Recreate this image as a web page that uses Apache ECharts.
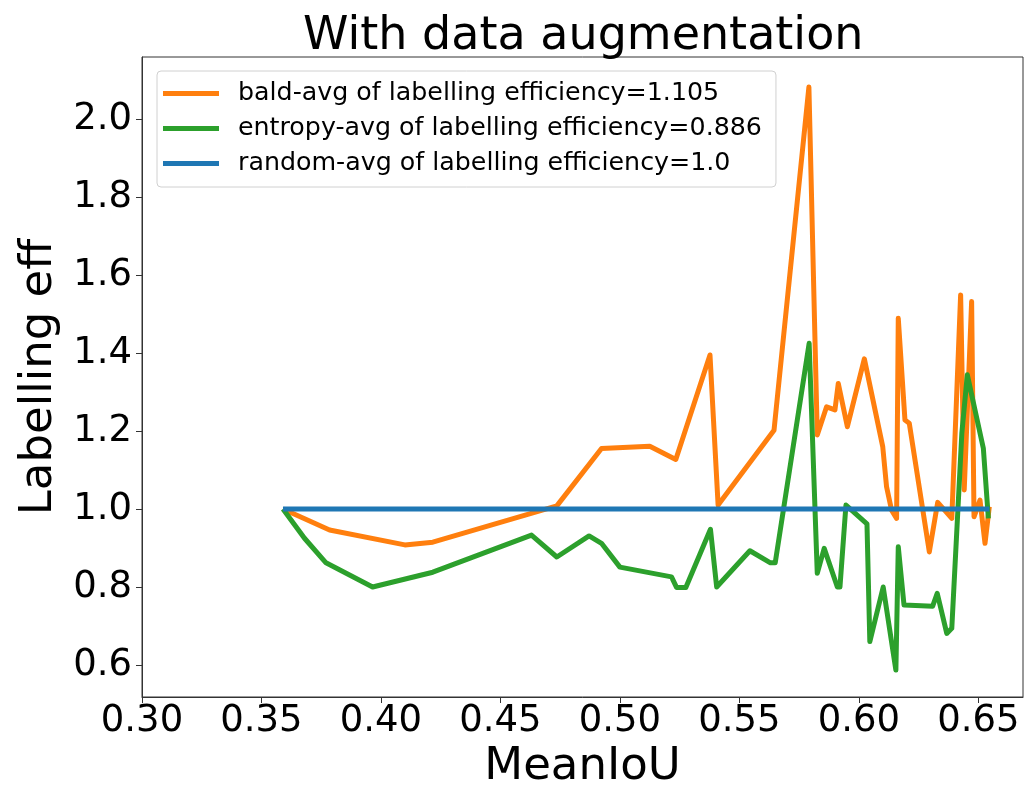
<!DOCTYPE html>
<html>
<head>
<meta charset="utf-8">
<script src="https://cdn.jsdelivr.net/npm/echarts@6/dist/echarts.min.js"></script>
<style>
  html, body { margin: 0; padding: 0; background: #fff; }
  #container { width: 1025px; height: 787px; }
</style>
</head>
<body>
<div id="container"></div>
<script>
// 标题和坐标轴文字
const title = 'With data augmentation';
const xName = 'MeanIoU';
const yName = 'Labelling eff';

// 图例名称
const baldName = 'bald-avg of labelling efficiency=1.105';
const entropyName = 'entropy-avg of labelling efficiency=0.886';
const randomName = 'random-avg of labelling efficiency=1.0';

// 刻度
const xTicks = [0.30, 0.35, 0.40, 0.45, 0.50, 0.55, 0.60, 0.65];
const yTicks = [0.6, 0.8, 1.0, 1.2, 1.4, 1.6, 1.8, 2.0];

// bald 数据 (x: MeanIoU, y: 标注效率)
const baldX = [0.359, 0.3785, 0.410, 0.4217, 0.4736, 0.4923, 0.5125, 0.5234, 0.5377, 0.5411,
  0.5645, 0.5791, 0.5826, 0.5865, 0.5900, 0.5914, 0.5952, 0.6023, 0.6100, 0.6116,
  0.6137, 0.6158, 0.6165, 0.6193, 0.6211, 0.6295, 0.6330, 0.6389, 0.6426, 0.6441,
  0.6472, 0.6482, 0.6507, 0.6528, 0.6546];
const baldY = [1.000, 0.946, 0.908, 0.915, 1.008, 1.155, 1.161, 1.127, 1.395, 1.010,
  1.202, 2.082, 1.190, 1.262, 1.254, 1.322, 1.211, 1.385, 1.160, 1.057,
  0.997, 0.976, 1.489, 1.228, 1.220, 0.890, 1.017, 0.976, 1.549, 1.049,
  1.532, 0.980, 1.023, 0.912, 1.006];

// entropy 数据
const entropyX = [0.359, 0.368, 0.377, 0.3965, 0.4217, 0.463, 0.4736, 0.4871, 0.4923, 0.500,
  0.5216, 0.5237, 0.5276, 0.5379, 0.5405, 0.5544, 0.5630, 0.5650, 0.5792, 0.5826,
  0.5855, 0.5910, 0.5921, 0.5946, 0.6034, 0.6046, 0.6102, 0.6155, 0.6165, 0.6189,
  0.6309, 0.6328, 0.6368, 0.6389, 0.6431, 0.6454, 0.6521, 0.6542];
const entropyY = [1.000, 0.925, 0.862, 0.800, 0.838, 0.933, 0.877, 0.931, 0.912, 0.851,
  0.826, 0.799, 0.799, 0.948, 0.800, 0.893, 0.862, 0.862, 1.425, 0.835,
  0.899, 0.800, 0.800, 1.010, 0.962, 0.660, 0.800, 0.587, 0.903, 0.754,
  0.751, 0.784, 0.681, 0.694, 1.194, 1.344, 1.156, 0.976];

// random 数据
const randomX = [0.359, 0.6546];
const randomY = [1.0, 1.0];

const colors = ['#ff7f0e', '#2ca02c', '#1f77b4'];
const font = 'DejaVu Sans';

// 组合成 [x, y] 点
function toPoints(xs, ys) {
  return xs.map((x, i) => [x, ys[i]]);
}

function makeSeries(name, xs, ys, color) {
  return {
    name: name,
    type: 'line',
    data: toPoints(xs, ys),
    symbol: 'none',
    animation: false,
    lineStyle: { color: color, width: 5, join: 'round', cap: 'butt' },
    itemStyle: { color: color }
  };
}

const myChart = echarts.init(document.getElementById('container'));

const option = {
  backgroundColor: '#fff',
  animation: false,
  title: {
    text: title,
    left: 298,
    top: 9,
    textStyle: { fontFamily: font, fontSize: 46, fontWeight: 'normal', color: '#000' }
  },
  legend: {
    orient: 'vertical',
    left: 157,
    top: 71,
    padding: [10, 14, 11, 6],
    itemGap: 10,
    itemWidth: 56,
    itemHeight: 5,
    icon: 'rect',
    borderColor: '#d0d0d0',
    borderWidth: 1,
    borderRadius: 4,
    backgroundColor: 'rgba(255,255,255,0.8)',
    textStyle: { fontFamily: font, fontSize: 25.3, color: '#000', padding: [0, 0, 0, 14] },
    data: [baldName, entropyName, randomName]
  },
  grid: {
    left: 142,
    right: 2,
    top: 57,
    bottom: 90,
    outerBoundsMode: 'none',
    containLabel: false,
    show: true,
    borderColor: '#333',
    borderWidth: 1,
    backgroundColor: '#fff'
  },
  xAxis: {
    type: 'value',
    min: 0.30,
    max: 0.6687,
    name: xName,
    nameLocation: 'middle',
    nameGap: 42,
    nameTextStyle: { fontFamily: font, fontSize: 45, color: '#000' },
    axisLine: { show: true, lineStyle: { color: '#333', width: 1 } },
    axisTick: { show: true, length: 6, lineStyle: { color: '#333' }, customValues: xTicks },
    axisLabel: {
      customValues: xTicks,
      fontFamily: font,
      fontSize: 37,
      color: '#000',
      margin: 6,
      formatter: v => v.toFixed(2)
    },
    splitLine: { show: false }
  },
  yAxis: {
    type: 'value',
    min: 0.518,
    max: 2.159,
    name: yName,
    nameLocation: 'middle',
    nameRotate: 90,
    nameGap: 74,
    nameTextStyle: { fontFamily: font, fontSize: 45, color: '#000' },
    axisLine: { show: true, lineStyle: { color: '#333', width: 1 } },
    axisTick: { show: true, length: 6, lineStyle: { color: '#333' }, customValues: yTicks },
    axisLabel: {
      customValues: yTicks,
      fontFamily: font,
      fontSize: 37,
      color: '#000',
      margin: 10,
      formatter: v => v.toFixed(1)
    },
    splitLine: { show: false }
  },
  series: [
    makeSeries(baldName, baldX, baldY, colors[0]),
    makeSeries(entropyName, entropyX, entropyY, colors[1]),
    makeSeries(randomName, randomX, randomY, colors[2])
  ]
};

myChart.setOption(option);
</script>
</body>
</html>
